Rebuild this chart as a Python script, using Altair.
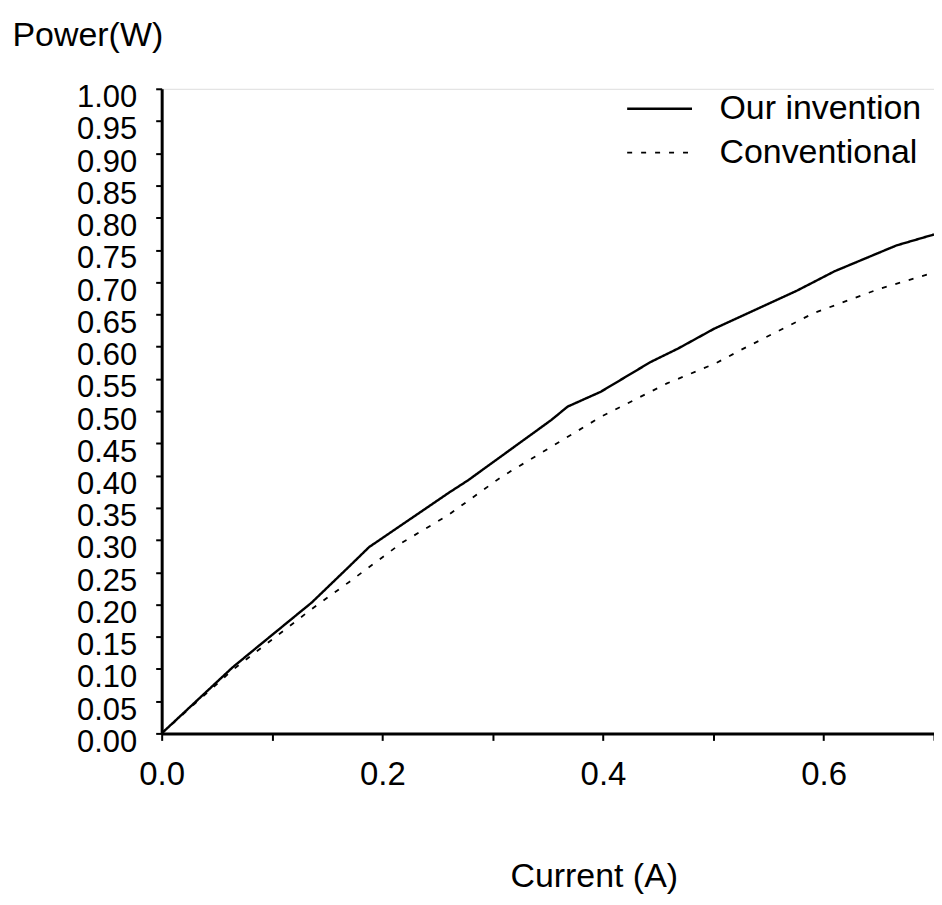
import altair as alt
import pandas as pd

series_names = ["Our invention", "Conventional"]

inv_current = [0.000, 0.064, 0.086, 0.136, 0.170, 0.188, 0.260, 0.278, 0.353, 0.368,
               0.398, 0.443, 0.468, 0.501, 0.576, 0.610, 0.666, 0.700]
inv_power = [0.000, 0.102, 0.133, 0.203, 0.259, 0.289, 0.373, 0.393, 0.486, 0.507,
             0.530, 0.576, 0.597, 0.628, 0.687, 0.717, 0.757, 0.774]

conv_current = [0.000, 0.064, 0.136, 0.170, 0.218, 0.260, 0.308, 0.398, 0.458, 0.502,
                0.524, 0.591, 0.651, 0.700]
conv_power = [0.000, 0.098, 0.193, 0.235, 0.296, 0.339, 0.398, 0.491, 0.543, 0.574,
              0.594, 0.652, 0.690, 0.715]

y_ticks = [0.00, 0.05, 0.10, 0.15, 0.20, 0.25, 0.30, 0.35, 0.40, 0.45, 0.50,
           0.55, 0.60, 0.65, 0.70, 0.75, 0.80, 0.85, 0.90, 0.95, 1.00]
x_ticks = [0.0, 0.1, 0.2, 0.3, 0.4, 0.5, 0.6, 0.7]
x_labels = ["0.0", "0.2", "0.4", "0.6"]

rows = []
for c, p in zip(inv_current, inv_power):
    rows.append({"current": c, "power": p, "series": series_names[0]})
for c, p in zip(conv_current, conv_power):
    rows.append({"current": c, "power": p, "series": series_names[1]})
df = pd.DataFrame(rows)

FONT = "Liberation Sans"
label_list = "[" + ",".join("'" + s + "'" for s in x_labels) + "]"

chart = alt.Chart(df).mark_line(color="black", strokeCap="butt").encode(
    x=alt.X(
        "current:Q",
        scale=alt.Scale(domain=[0, 0.7], nice=False, zero=True),
        axis=alt.Axis(
            title="Current (A)",
            values=x_ticks,
            labelExpr="indexof(" + label_list + ", format(datum.value, '.1f')) >= 0 ? format(datum.value, '.1f') : ''",
            grid=False,
            domainColor="black", domainWidth=3,
            tickColor="black", tickWidth=2, tickSize=7,
            labelFont=FONT, labelFontSize=33, labelColor="black",
            labelPadding=18, labelFlush=False, labelOverlap=False,
            titleFont=FONT, titleFontSize=34, titleFontWeight="normal", titleColor="black",
            titleX=433, titleY=143, titleAlign="center", titleBaseline="middle",
        ),
    ),
    y=alt.Y(
        "power:Q",
        scale=alt.Scale(domain=[0, 1], nice=False),
        axis=alt.Axis(
            title="Power(W)",
            values=y_ticks,
            format=".2f",
            grid=False,
            domainColor="black", domainWidth=3,
            tickColor="black", tickWidth=2, tickSize=6,
            labelFont=FONT, labelFontSize=31, labelColor="black",
            labelPadding=19, labelOverlap=False, labelFlush=False,
            labelBaseline="middle", labelOffset=9,
            titleFont=FONT, titleFontSize=34, titleFontWeight="normal", titleColor="black",
            titleAngle=0, titleX=-150, titleY=-53, titleAlign="left", titleBaseline="middle",
        ),
    ),
    strokeDash=alt.StrokeDash(
        "series:N",
        scale=alt.Scale(domain=series_names, range=[[1, 0], [5, 9]]),
        legend=alt.Legend(
            title=None,
            orient="none", legendX=465, legendY=-1,
            symbolType="stroke", symbolSize=4225, symbolStrokeWidth=2.2,
            symbolStrokeColor="black", clipHeight=42, rowPadding=2,
            labelFont=FONT, labelFontSize=34, labelColor="black",
            labelOffset=26, labelLimit=400, padding=0,
        ),
    ),
    strokeWidth=alt.StrokeWidth(
        "series:N",
        scale=alt.Scale(domain=series_names, range=[2.4, 1.8]),
        legend=None,
    ),
    order=alt.Order("current:Q"),
).properties(
    width=774,
    height=646,
    autosize=alt.AutoSizeParams(type="none"),
    padding={"left": 154, "top": 80, "right": 0, "bottom": 160},
).configure_view(stroke=None).configure(background="white")

chart.save("out.html", embed_options={"renderer": "svg", "actions": False})
